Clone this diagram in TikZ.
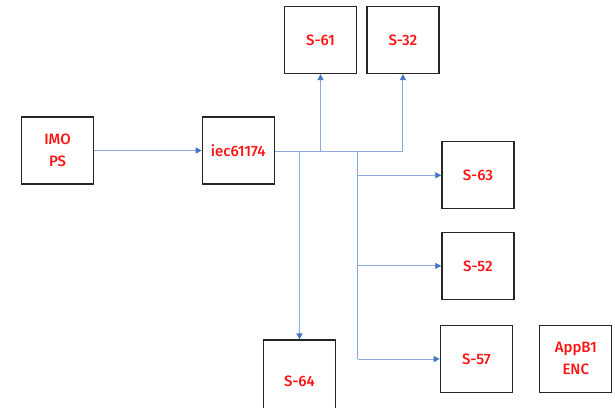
\documentclass[tikz,border=0pt]{standalone}
\usepackage{fontspec}
\setmainfont{Fira Sans}[BoldFont={Fira Sans Medium}]
\usetikzlibrary{arrows.meta}
\definecolor{lineblue}{RGB}{140,168,222}
\definecolor{tipblue}{RGB}{68,114,196}
\definecolor{txtred}{RGB}{255,20,20}
\begin{document}
\begin{tikzpicture}[x=1pt,y=-1pt,
  box/.style={draw=black!85,line width=1.3pt,minimum width=72pt,minimum height=67pt,inner sep=0pt,
    text=txtred,font=\fontsize{15}{22}\selectfont\bfseries,align=center},
  conn/.style={draw=lineblue,line width=0.9pt},
  arr/.style={conn,-{Triangle[length=6pt,width=6pt,color=tipblue]}}]
\useasboundingbox (0,0) rectangle (615,407);
\fill[white] (0,0) rectangle (615,407);
\node[box] (imo) at (57.5,150.5) {IMO\\PS};
\node[box] (iec) at (238.3,150.5) {iec61174};
\node[box] (s61) at (320.5,40) {S-61};
\node[box] (s32) at (402.9,40) {S-32};
\node[box] (s63) at (477.9,175.3) {S-63};
\node[box] (s52) at (477.9,265.9) {S-52};
\node[box] (s57) at (476.3,359) {S-57};
\node[box] (app) at (575.8,358.7) {AppB1\\ENC};
\node[box,minimum height=75pt] (s64) at (299.5,377.5) {};
\node[text=txtred,font=\fontsize{15}{22}\selectfont\bfseries] (s64t) at (299.5,381) {S-64};
\coordinate (j2) at (402.9,151);
\coordinate (ja) at (299.5,151);
\coordinate (jb) at (357.6,151);
\coordinate (j1) at (320.5,151);
\coordinate (jend) at (357.6,359);
\draw[arr] (imo.east) -- (iec.west);
\draw[conn] (iec.east |- j2) -- (j2);
\draw[arr] (j2) -- (s32.south);
\draw[arr] (j1) -- (s61.south);
\draw[arr] (ja) -- (s64.north);
\draw[conn] (jb) -- (jend);
\draw[arr] (jb |- s63.west) -- (s63.west);
\draw[arr] (jb |- s52.west) -- (s52.west);
\draw[arr] (jend) -- (s57.west);
\end{tikzpicture}
\end{document}
